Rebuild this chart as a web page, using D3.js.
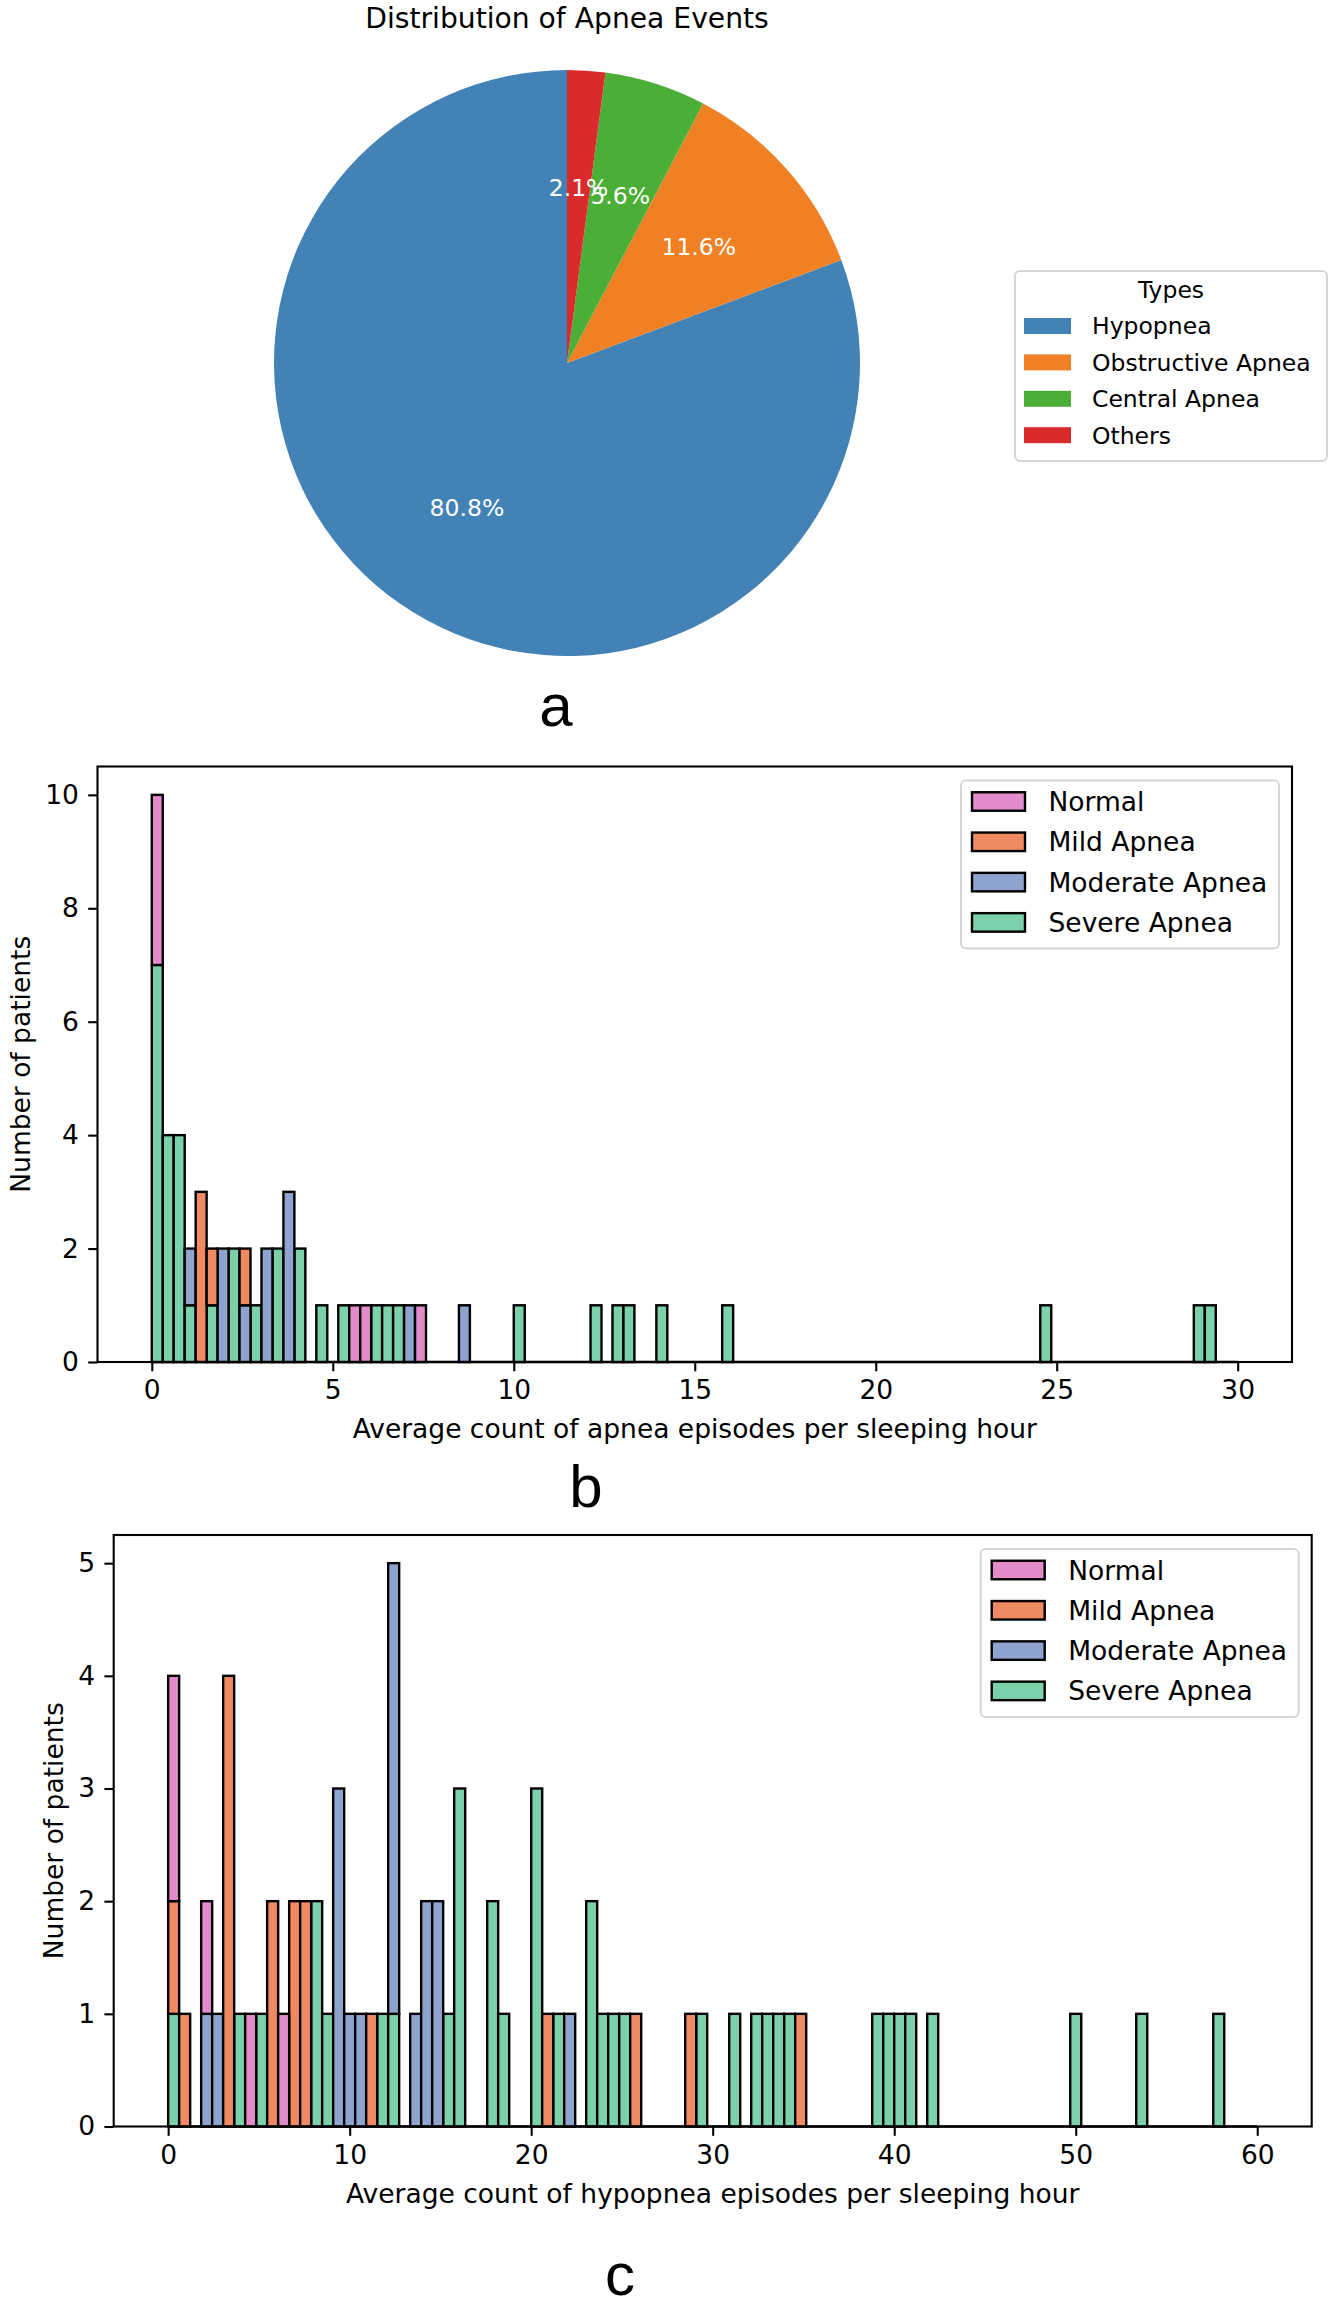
<!DOCTYPE html>
<html>
<head>
<meta charset="utf-8">
<script src="https://cdn.jsdelivr.net/npm/d3@7"></script>
<style>
  body { margin: 0; background: #fff; }
  text { font-family: "DejaVu Sans", sans-serif; fill: #000; }
</style>
</head>
<body>
<div id="chart"></div>
<script>
// ---- panel a: pie of event types ----
var eventTypes = ["Hypopnea", "Obstructive Apnea", "Central Apnea", "Others"];
var eventShares = [80.8, 11.6, 5.6, 2.1];
var eventColors = ["#4282b6", "#f08024", "#4bae37", "#d92b2b"];

// ---- panels b and c: stacked histograms, [bin index, count] ----
var classes = ["Normal", "Mild Apnea", "Moderate Apnea", "Severe Apnea"];
var classColors = ["#e28bca", "#ef8a62", "#8fa3cf", "#7bd1aa"];

var apneaRange = [0, 30];
var apneaBins = 99;
var apneaNormal = [[0, 3], [18, 1], [19, 1], [24, 1]];
var apneaMild = [[4, 3], [5, 1], [8, 1]];
var apneaModerate = [[3, 1], [6, 2], [8, 1], [10, 2], [12, 3], [23, 1], [28, 1]];
var apneaSevere = [[0, 7], [1, 4], [2, 4], [3, 1], [5, 1], [7, 2], [9, 1], [11, 2], [13, 2],
  [15, 1], [17, 1], [20, 1], [21, 1], [22, 1], [33, 1], [40, 1], [42, 1], [43, 1], [46, 1],
  [52, 1], [81, 1], [95, 1], [96, 1]];
var apneaXTicks = [0, 5, 10, 15, 20, 25, 30];
var apneaYTicks = [0, 2, 4, 6, 8, 10];

var hypoRange = [0, 60];
var hypoBins = 99;
var hypoNormal = [[0, 2], [3, 1], [7, 1], [10, 1]];
var hypoMild = [[0, 1], [1, 1], [5, 4], [9, 2], [11, 2], [12, 2], [18, 1], [34, 1], [42, 1],
  [47, 1], [57, 1]];
var hypoModerate = [[3, 1], [4, 1], [15, 3], [16, 1], [17, 1], [20, 4], [22, 1], [23, 2],
  [24, 2], [36, 1]];
var hypoSevere = [[0, 1], [6, 1], [8, 1], [13, 2], [14, 1], [19, 1], [20, 1], [25, 1], [26, 3],
  [29, 2], [30, 1], [33, 3], [35, 1], [38, 2], [39, 1], [40, 1], [41, 1], [48, 1], [51, 1],
  [53, 1], [54, 1], [55, 1], [56, 1], [64, 1], [65, 1], [66, 1], [67, 1], [69, 1], [82, 1],
  [88, 1], [95, 1]];
var hypoXTicks = [0, 10, 20, 30, 40, 50, 60];
var hypoYTicks = [0, 1, 2, 3, 4, 5];

var svgWidth = 1332;
var svgHeight = 2301;

var svg = d3.select("#chart")
  .append("svg")
  .attr("width", svgWidth)
  .attr("height", svgHeight);

svg.append("rect")
  .attr("width", svgWidth)
  .attr("height", svgHeight)
  .attr("fill", "#fff");

// ---------- pie ----------
var pieCx = 567, pieCy = 363, pieR = 293;
var pieFont = 23.5;

var pieGroup = svg.append("g")
  .attr("transform", `translate(${pieCx}, ${pieCy})`);

// counter-clockwise from 12 o'clock, like matplotlib startangle=90
var pie = d3.pie().sort(null).startAngle(0).endAngle(-2 * Math.PI);
var arcs = pie(eventShares);
var arc = d3.arc().innerRadius(0).outerRadius(pieR);
var labelArc = d3.arc().innerRadius(pieR * 0.6).outerRadius(pieR * 0.6);

pieGroup.selectAll("path")
  .data(arcs)
  .enter()
  .append("path")
  .attr("d", arc)
  .attr("fill", (d, i) => eventColors[i]);

pieGroup.selectAll("text.pct")
  .data(arcs)
  .enter()
  .append("text")
  .attr("class", "pct")
  .attr("transform", d => `translate(${labelArc.centroid(d)})`)
  .attr("text-anchor", "middle")
  .attr("dy", "0.36em")
  .style("font-size", pieFont + "px")
  .style("fill", "#fff")
  .text(d => d.data.toFixed(1) + "%");

svg.append("text")
  .attr("x", pieCx)
  .attr("y", 28)
  .attr("text-anchor", "middle")
  .style("font-size", "28.2px")
  .text("Distribution of Apnea Events");

// pie legend
var pieLeg = svg.append("g").attr("transform", "translate(1015, 271)");
pieLeg.append("rect")
  .attr("width", 312)
  .attr("height", 190)
  .attr("rx", 5)
  .attr("fill", "#fff")
  .attr("fill-opacity", 0.8)
  .attr("stroke", "#d6d6d6")
  .attr("stroke-width", 2);
pieLeg.append("text")
  .attr("x", 156)
  .attr("y", 27)
  .attr("text-anchor", "middle")
  .style("font-size", pieFont + "px")
  .text("Types");
var pieItems = pieLeg.selectAll("g.item")
  .data(eventTypes)
  .enter()
  .append("g")
  .attr("class", "item")
  .attr("transform", (d, i) => `translate(0, ${55 + i * 36.4})`);
pieItems.append("rect")
  .attr("x", 9)
  .attr("y", -8)
  .attr("width", 47)
  .attr("height", 16)
  .attr("fill", (d, i) => eventColors[i]);
pieItems.append("text")
  .attr("x", 77)
  .attr("dy", "0.36em")
  .style("font-size", pieFont + "px")
  .text(d => d);

// ---------- histograms ----------
var histFont = 26.5;
var tickLen = 9.3;

function drawHistogram(cfg) {
  var left = cfg.left, right = cfg.right, top = cfg.top, bottom = cfg.bottom;
  var span = cfg.range[1] - cfg.range[0];
  var binW = span / cfg.bins;

  var xScale = d3.scaleLinear()
    .domain([cfg.range[0] - 0.05 * span, cfg.range[1] + 0.05 * span])
    .range([left, right]);
  var yScale = d3.scaleLinear()
    .domain([0, cfg.yMax * 1.05])
    .range([bottom, top]);

  var g = svg.append("g");

  // stack: last class at the bottom, first on top
  var totals = {};
  var segments = [];
  for (var ci = cfg.series.length - 1; ci >= 0; ci--) {
    cfg.series[ci].forEach(function(p) {
      var b = p[0], c = p[1];
      var y0 = totals[b] || 0;
      segments.push({ bin: b, y0: y0, y1: y0 + c, cls: ci });
      totals[b] = y0 + c;
    });
  }

  // empty bins show as a line along zero
  g.append("line")
    .attr("x1", xScale(cfg.range[0]))
    .attr("x2", xScale(cfg.range[1]))
    .attr("y1", yScale(0))
    .attr("y2", yScale(0))
    .attr("stroke", "#000")
    .attr("stroke-width", 2.4);

  g.selectAll("rect.bar")
    .data(segments)
    .enter()
    .append("rect")
    .attr("class", "bar")
    .attr("x", d => xScale(cfg.range[0] + d.bin * binW))
    .attr("width", d => xScale(cfg.range[0] + (d.bin + 1) * binW) - xScale(cfg.range[0] + d.bin * binW))
    .attr("y", d => yScale(d.y1))
    .attr("height", d => yScale(d.y0) - yScale(d.y1))
    .attr("fill", d => classColors[d.cls])
    .attr("stroke", "#000")
    .attr("stroke-width", 2.4);

  // axes
  var xAxis = g.append("g")
    .attr("transform", `translate(0, ${bottom})`)
    .call(d3.axisBottom(xScale).tickValues(cfg.xTicks).tickFormat(d3.format("d"))
      .tickSize(tickLen).tickPadding(tickLen));
  var yAxis = g.append("g")
    .attr("transform", `translate(${left}, 0)`)
    .call(d3.axisLeft(yScale).tickValues(cfg.yTicks).tickFormat(d3.format("d"))
      .tickSize(tickLen).tickPadding(tickLen));

  [xAxis, yAxis].forEach(function(a) {
    a.select(".domain").remove();
    a.selectAll(".tick line").attr("stroke", "#000").attr("stroke-width", 2.1);
    a.selectAll(".tick text")
      .style("font-size", histFont + "px")
      .style("font-family", "DejaVu Sans")
      .attr("fill", "#000");
  });

  // frame
  g.append("rect")
    .attr("x", left)
    .attr("y", top)
    .attr("width", right - left)
    .attr("height", bottom - top)
    .attr("fill", "none")
    .attr("stroke", "#000")
    .attr("stroke-width", 2.1);

  g.append("text")
    .attr("x", (left + right) / 2)
    .attr("y", bottom + 76)
    .attr("text-anchor", "middle")
    .style("font-size", histFont + "px")
    .text(cfg.xLabel);

  // y label sits just left of the widest tick label
  var tickBox = yAxis.node().getBBox();
  var yLabelX = left + tickBox.x - 10.6 - 14;
  g.append("text")
    .attr("transform", `translate(${yLabelX}, ${(top + bottom) / 2}) rotate(-90)`)
    .attr("text-anchor", "middle")
    .attr("dy", "0.36em")
    .style("font-size", histFont + "px")
    .text("Number of patients");

  // legend
  var legW = 318, legH = 168;
  var leg = g.append("g")
    .attr("transform", `translate(${right - 13 - legW}, ${top + 14})`);
  leg.append("rect")
    .attr("width", legW)
    .attr("height", legH)
    .attr("rx", 5)
    .attr("fill", "#fff")
    .attr("fill-opacity", 0.8)
    .attr("stroke", "#d6d6d6")
    .attr("stroke-width", 2);
  var items = leg.selectAll("g.item")
    .data(classes)
    .enter()
    .append("g")
    .attr("class", "item")
    .attr("transform", (d, i) => `translate(0, ${21 + i * 40.3})`);
  items.append("rect")
    .attr("x", 11)
    .attr("y", -9.25)
    .attr("width", 53)
    .attr("height", 18.5)
    .attr("fill", (d, i) => classColors[i])
    .attr("stroke", "#000")
    .attr("stroke-width", 2.4);
  items.append("text")
    .attr("x", 87.5)
    .attr("dy", "0.36em")
    .style("font-size", histFont + "px")
    .text(d => d);
}

drawHistogram({
  left: 97.5, right: 1292, top: 766.5, bottom: 1362,
  range: apneaRange, bins: apneaBins, yMax: 10,
  series: [apneaNormal, apneaMild, apneaModerate, apneaSevere],
  xTicks: apneaXTicks, yTicks: apneaYTicks,
  xLabel: "Average count of apnea episodes per sleeping hour"
});

drawHistogram({
  left: 113.7, right: 1311.7, top: 1535, bottom: 2126.5,
  range: hypoRange, bins: hypoBins, yMax: 5,
  series: [hypoNormal, hypoMild, hypoModerate, hypoSevere],
  xTicks: hypoXTicks, yTicks: hypoYTicks,
  xLabel: "Average count of hypopnea episodes per sleeping hour"
});

// panel letters
var panelLetters = [["a", 556, 726], ["b", 586, 1507], ["c", 620, 2295]];
svg.selectAll("text.panel")
  .data(panelLetters)
  .enter()
  .append("text")
  .attr("class", "panel")
  .attr("x", d => d[1])
  .attr("y", d => d[2])
  .attr("text-anchor", "middle")
  .style("font-family", "'Liberation Sans', Arial, sans-serif")
  .style("font-size", "60px")
  .text(d => d[0]);
</script>
</body>
</html>
